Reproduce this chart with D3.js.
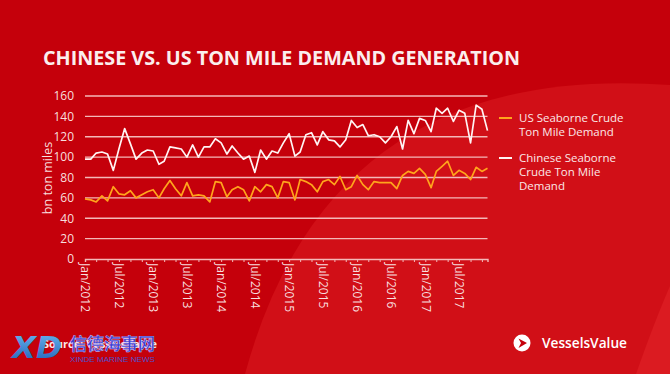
<!DOCTYPE html>
<html>
<head>
<meta charset="utf-8">
<script src="https://cdn.jsdelivr.net/npm/d3@7"></script>
<style>
  html, body { margin: 0; padding: 0; background: #c5000b; }
  svg { display: block; }
</style>
</head>
<body>
<svg id="chart"></svg>
<script>
// monthly ton mile demand, Jan 2012 .. Dec 2017 (bn ton miles)
const chinaValues = [
  98, 98, 104, 105, 103, 87, 108, 128, 113, 98,
  104, 107, 106, 93, 96, 110, 109, 108, 100, 112,
  100, 110, 110, 118, 114, 103, 111, 104, 98, 101,
  85, 107, 98, 106, 104, 114, 123, 101, 105, 122,
  124, 112, 125, 117, 116, 110, 117, 136, 129, 132,
  121, 122, 120, 114, 120, 130, 108, 136, 123, 138,
  136, 125, 148, 143, 148, 135, 146, 143, 114, 151,
  147, 126
];
const usValues = [
  59, 58, 56, 62, 57, 71, 64, 63, 67, 60,
  63, 66, 68, 60, 69, 77, 69, 62, 75, 62,
  63, 62, 56, 76, 75, 61, 68, 71, 68, 57,
  71, 66, 73, 71, 60, 76, 75, 58, 78, 76,
  73, 66, 76, 78, 73, 81, 68, 71, 82, 73,
  68, 76, 75, 75, 75, 69, 82, 86, 84, 89,
  83, 70, 86, 91, 96, 82, 87, 84, 78, 90,
  86, 89
];
const yTicks = [0, 20, 40, 60, 80, 100, 120, 140, 160];
const seriesNames = ['US Seaborne Crude Ton Mile Demand', 'Chinese Seaborne Crude Ton Mile Demand'];

const W = 670, H = 374;
const months = d3.timeMonth.range(new Date(2012, 0, 1), new Date(2018, 0, 1));

const svg = d3.select('#chart').attr('width', W).attr('height', H);

// background with the lighter sweep on the right
svg.append('rect').attr('width', W).attr('height', H).attr('fill', '#c5000b');
svg.append('path').attr('d', 'M245,374 Q330,60 670,85 L670,374 Z').attr('fill', '#d10f17');
svg.append('path').attr('d', 'M636,374 Q655,320 670,286 L670,374 Z').attr('fill', '#db1b21');

svg.append('text')
  .attr('x', 43).attr('y', 65)
  .attr('textLength', 477).attr('lengthAdjust', 'spacingAndGlyphs')
  .style('font-family', '"Open Sans", sans-serif')
  .style('font-weight', 700).style('font-size', '19px')
  .attr('fill', '#fbeeee')
  .text('CHINESE VS. US TON MILE DEMAND GENERATION');

const x = d3.scaleTime()
  .domain([months[0], months[months.length - 1]])
  .range([85, 487.5]);
const y = d3.scaleLinear().domain([0, 160]).range([259, 96]);

const g = svg.append('g');

// gridlines
g.append('g').attr('class', 'grid')
  .selectAll('line').data(yTicks.filter(d => d > 0)).join('line')
  .attr('x1', 85).attr('x2', 487.5)
  .attr('y1', d => y(d)).attr('y2', d => y(d))
  .attr('stroke', '#f4b8b8').attr('stroke-width', 1.4);

// y axis labels
const yAxis = g.append('g').attr('transform', 'translate(85,0)')
  .call(d3.axisLeft(y).tickValues(yTicks).tickSize(0).tickPadding(11));
yAxis.select('.domain').remove();
yAxis.selectAll('text')
  .style('font-family', '"Open Sans", sans-serif').style('font-size', '12px')
  .attr('fill', '#f8dede');

svg.append('text')
  .attr('transform', 'translate(52,178) rotate(-90)')
  .attr('text-anchor', 'middle')
  .style('font-family', '"Open Sans", sans-serif').style('font-size', '12.5px')
  .attr('fill', '#f8dede')
  .text('bn ton miles');

// x axis
const fmt = d3.timeFormat('%b/%Y');
const xAxis = g.append('g').attr('transform', `translate(0,${y(0)})`)
  .call(d3.axisBottom(x)
    .ticks(d3.timeMonth.every(2))
    .tickSize(3)
    .tickFormat(d => (d.getMonth() % 6 === 0 ? fmt(d) : '')));
xAxis.select('.domain').attr('stroke', '#f4b8b8').attr('stroke-width', 1.4);
xAxis.selectAll('.tick line').attr('stroke', '#f4b8b8');
xAxis.selectAll('text')
  .attr('transform', 'rotate(90)')
  .attr('x', 4).attr('y', 0).attr('dy', '0.35em')
  .attr('text-anchor', 'start')
  .style('font-family', '"Open Sans", sans-serif').style('font-size', '12px')
  .attr('fill', '#f8dede');

// series lines
const line = d3.line().x((d, i) => x(months[i])).y(d => y(d));
g.append('path').datum(usValues)
  .attr('d', line).attr('fill', 'none')
  .attr('stroke', '#ffa41c').attr('stroke-width', 1.7).attr('stroke-linejoin', 'round');
g.append('path').datum(chinaValues)
  .attr('d', line).attr('fill', 'none')
  .attr('stroke', '#fff4f4').attr('stroke-width', 1.7).attr('stroke-linejoin', 'round');

// legend
const legend = svg.append('g').attr('transform', 'translate(499,0)');
const legendRows = [
  { color: '#ffa41c', y: 118, lines: ['US Seaborne Crude', 'Ton Mile Demand'] },
  { color: '#fff4f4', y: 158, lines: ['Chinese Seaborne', 'Crude Ton Mile', 'Demand'] }
];
legendRows.forEach((r, k) => {
  legend.append('line')
    .attr('x1', 0).attr('x2', 13).attr('y1', r.y).attr('y2', r.y)
    .attr('stroke', r.color).attr('stroke-width', 2);
  const t = legend.append('text')
    .attr('x', 20).attr('y', r.y + 4)
    .style('font-family', '"Open Sans", sans-serif').style('font-size', '11.5px')
    .attr('fill', '#fbe8e8')
    .attr('aria-label', seriesNames[k]);
  r.lines.forEach((s, j) => {
    t.append('tspan').attr('x', 20).attr('dy', j === 0 ? 0 : 14).text(s);
  });
});

// source
svg.append('text')
  .attr('x', 43).attr('y', 348)
  .style('font-family', '"Open Sans", sans-serif').style('font-weight', 700).style('font-size', '11px')
  .attr('fill', '#fbe8e8')
  .text('Source: VesselsValue');

// watermark
const wm = svg.append('g');
const grad = svg.append('defs').append('linearGradient').attr('id', 'xdg')
  .attr('x1', 0).attr('x2', 0).attr('y1', 0).attr('y2', 1);
grad.append('stop').attr('offset', 0).attr('stop-color', '#6ab8f0');
grad.append('stop').attr('offset', 1).attr('stop-color', '#1f5fb8');
wm.append('text')
  .attr('x', 12).attr('y', 358)
  .style('font-family', '"DejaVu Sans", sans-serif').style('font-weight', 700)
  .style('font-size', '30px').style('font-style', 'italic')
  .attr('textLength', 50).attr('lengthAdjust', 'spacingAndGlyphs')
  .attr('fill', 'url(#xdg)')
  .text('XD');
wm.append('text')
  .attr('x', 70).attr('y', 350)
  .style('font-family', '"Noto Sans CJK SC", sans-serif').style('font-weight', 700)
  .style('font-size', '17px')
  .attr('fill', '#3c3cd0').attr('stroke', '#d8d8ff').attr('stroke-width', 0.4)
  .text('信德海事网');
wm.append('text')
  .attr('x', 70).attr('y', 362)
  .attr('textLength', 85).attr('lengthAdjust', 'spacingAndGlyphs')
  .style('font-family', '"Liberation Sans", sans-serif').style('font-size', '8px')
  .attr('fill', '#5050c8')
  .text('XINDE MARINE NEWS');

// VesselsValue logo
const logo = svg.append('g').attr('transform', 'translate(522,343)');
logo.append('circle').attr('r', 8.5).attr('fill', '#fff');
logo.append('path').attr('d', 'M-3.5,-4.5 L5,0 L-3.5,5 L-1,0 Z').attr('fill', '#c5000b');
logo.append('text')
  .attr('x', 20).attr('y', 5)
  .attr('textLength', 85).attr('lengthAdjust', 'spacingAndGlyphs')
  .style('font-family', '"Open Sans", sans-serif').style('font-weight', 600).style('font-size', '14.5px')
  .attr('fill', '#fff')
  .text('VesselsValue');
</script>
</body>
</html>
